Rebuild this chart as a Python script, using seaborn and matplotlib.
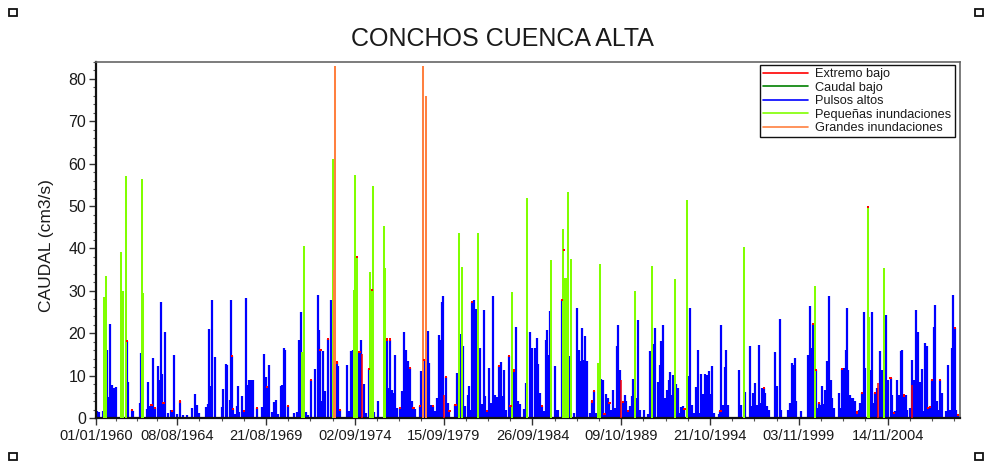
import numpy as np
import pandas as pd
import matplotlib
matplotlib.use("Agg")
import matplotlib.pyplot as plt
import matplotlib.dates as mdates
from matplotlib.lines import Line2D
from matplotlib.patches import Rectangle
from matplotlib.ticker import MultipleLocator
import seaborn as sns

# Caudal events: (decimal year, flow) per flow class
pulsos_altos = [
    (1960.04, 1.6), (1960.19, 1.3), (1960.38, 1.6), (1960.60, 16.1), (1960.70, 5.0), (1960.79, 22.2),
    (1960.89, 7.9), (1961.02, 7.0), (1961.11, 7.3), (1961.76, 18.1), (1961.83, 8.6), (1962.02, 1.8),
    (1962.11, 1.6), (1962.49, 3.5), (1962.55, 15.3), (1962.87, 2.1), (1962.97, 8.4), (1963.06, 2.9),
    (1963.15, 3.1), (1963.23, 14.1), (1963.34, 2.4), (1963.49, 12.2), (1963.55, 9.0), (1963.66, 27.4),
    (1963.74, 10.4), (1963.83, 3.5), (1963.93, 20.3), (1964.10, 1.2), (1964.23, 2.0), (1964.31, 1.6),
    (1964.42, 14.9), (1964.57, 0.9), (1964.76, 3.9), (1964.95, 0.6), (1965.14, 0.6), (1965.46, 2.4),
    (1965.61, 5.7), (1965.72, 3.0), (1965.86, 1.2), (1966.22, 2.5), (1966.33, 3.3), (1966.40, 21.0),
    (1966.52, 7.5), (1966.59, 27.8), (1966.73, 14.4), (1967.12, 2.5), (1967.20, 6.8), (1967.37, 12.8),
    (1967.44, 12.6), (1967.58, 4.3), (1967.63, 27.8), (1967.71, 14.7), (1967.78, 2.1), (1967.90, 1.0),
    (1967.99, 2.8), (1968.05, 7.5), (1968.12, 1.3), (1968.27, 5.1), (1968.39, 1.6), (1968.48, 28.3),
    (1968.58, 7.9), (1968.65, 9.0), (1968.77, 9.0), (1968.88, 9.0), (1969.11, 2.4), (1969.41, 2.5),
    (1969.52, 15.2), (1969.62, 9.6), (1969.71, 7.3), (1969.81, 12.6), (1969.96, 1.3), (1970.07, 3.8),
    (1970.18, 4.2), (1970.31, 1.0), (1970.47, 7.5), (1970.56, 7.9), (1970.66, 16.4), (1970.73, 16.1),
    (1970.88, 2.9), (1971.20, 1.2), (1971.41, 1.3), (1971.51, 18.5), (1971.60, 25.0), (1971.70, 15.6),
    (1971.88, 1.3), (1972.04, 0.8), (1972.17, 9.0),
    (1972.43, 11.6), (1972.56, 29.1), (1972.64, 20.8), (1972.72, 16.1), (1972.79, 3.9), (1972.89, 15.7),
    (1972.98, 6.3), (1973.13, 18.7), (1973.32, 27.9), (1973.40, 2.1), (1973.64, 13.1), (1973.74, 12.2),
    (1973.83, 1.8), (1974.23, 12.6), (1974.36, 1.6), (1974.45, 15.7), (1974.55, 16.1), (1974.85, 13.0),
    (1974.93, 15.5), (1975.02, 18.5), (1975.17, 8.1), (1975.30, 1.2), (1975.46, 11.6), (1975.78, 1.3),
    (1975.97, 3.9), (1976.49, 18.5), (1976.57, 7.1), (1976.68, 18.5), (1976.76, 6.7), (1976.85, 5.9),
    (1976.97, 14.9), (1977.04, 2.4), (1977.25, 2.4), (1977.35, 6.3), (1977.48, 20.3), (1977.55, 16.1),
    (1977.67, 13.4), (1977.80, 11.8), (1977.89, 3.9), (1977.99, 2.4), (1978.10, 2.1), (1978.35, 2.9),
    (1978.44, 11.2), (1978.61, 13.6), (1978.80, 20.6), (1978.89, 13.0), (1979.01, 3.1), (1979.12, 2.9),
    (1979.23, 1.6), (1979.31, 4.7), (1979.42, 19.7), (1979.50, 18.5), (1979.59, 27.3), (1979.69, 28.7),
    (1979.84, 9.6), (1979.93, 3.5), (1980.03, 1.6), (1980.37, 3.1), (1980.46, 10.6), (1980.63, 19.8),
    (1980.80, 17.1), (1980.94, 2.9), (1981.07, 5.5), (1981.16, 7.5), (1981.24, 2.0), (1981.33, 27.3),
    (1981.43, 27.8), (1981.52, 25.7), (1981.60, 22.8), (1981.77, 16.4), (1981.88, 3.3), (1981.99, 25.6),
    (1982.07, 5.1), (1982.18, 1.6), (1982.30, 11.9), (1982.39, 3.5), (1982.50, 28.7), (1982.60, 5.5),
    (1982.71, 4.9), (1982.84, 12.2), (1982.96, 13.2), (1983.05, 5.1), (1983.13, 11.4), (1983.26, 2.0),
    (1983.39, 14.7), (1983.49, 2.9), (1983.69, 11.2), (1983.81, 21.5), (1983.92, 3.9), (1984.03, 3.3),
    (1984.28, 2.2), (1984.38, 8.3),
    (1984.60, 20.4), (1984.72, 16.5), (1984.87, 16.5), (1984.98, 18.9), (1985.07, 12.7), (1985.19, 5.9),
    (1985.28, 2.8), (1985.38, 1.6), (1985.49, 18.5), (1985.58, 20.8), (1985.68, 14.9), (1985.75, 25.3),
    (1986.00, 12.3), (1986.09, 2.0), (1986.17, 1.8), (1986.42, 27.9), (1986.85, 14.7), (1987.10, 1.2),
    (1987.27, 25.9), (1987.36, 16.1), (1987.46, 13.5), (1987.55, 21.2), (1987.64, 13.8), (1987.74, 19.4),
    (1987.81, 13.5), (1988.02, 1.2), (1988.12, 3.9), (1988.21, 6.3), (1988.31, 1.2), (1988.40, 1.2),
    (1988.65, 9.3), (1988.74, 9.0), (1988.82, 1.0), (1988.91, 5.7), (1989.00, 4.7), (1989.10, 3.5),
    (1989.21, 2.0), (1989.31, 6.7), (1989.44, 2.4), (1989.53, 16.9), (1989.61, 21.9), (1989.69, 11.4),
    (1989.85, 3.8), (1989.97, 5.5), (1990.06, 3.9), (1990.16, 1.7), (1990.25, 2.8), (1990.35, 5.1),
    (1990.46, 9.2), (1990.65, 4.7), (1990.74, 23.2), (1990.82, 2.0), (1991.05, 2.0), (1991.27, 0.9),
    (1991.39, 15.7), (1991.57, 17.5), (1991.67, 21.2), (1991.86, 8.6), (1991.95, 12.6), (1992.05, 18.1),
    (1992.12, 21.9), (1992.24, 4.7), (1992.35, 6.7), (1992.46, 9.0), (1992.54, 10.8), (1992.65, 5.5),
    (1992.71, 10.2), (1992.90, 8.0), (1992.97, 7.1), (1993.09, 1.2), (1993.16, 2.5), (1993.26, 2.8),
    (1993.35, 2.1), (1993.58, 9.8), (1993.65, 25.9), (1993.75, 3.1), (1993.88, 1.2), (1994.01, 7.2),
    (1994.13, 16.1), (1994.20, 1.2), (1994.31, 10.4), (1994.43, 5.7), (1994.52, 10.4), (1994.64, 10.2),
    (1994.73, 11.0), (1994.82, 5.7), (1994.92, 12.3), (1995.01, 1.2), (1995.30, 1.0), (1995.39, 1.6),
    (1995.45, 21.9), (1995.54, 3.1), (1995.64, 12.0), (1995.73, 16.0), (1995.83, 3.1), (1996.47, 11.4),
    (1996.56, 3.0),
    (1996.81, 6.1), (1997.09, 16.9), (1997.17, 2.8), (1997.26, 5.9), (1997.36, 8.3), (1997.45, 3.1),
    (1997.55, 17.3), (1997.64, 3.5), (1997.75, 7.1), (1997.85, 7.1), (1997.94, 5.9), (1998.04, 2.9),
    (1998.15, 2.0), (1998.47, 15.5), (1998.57, 7.5), (1998.74, 23.3), (1998.81, 2.0), (1999.23, 2.0),
    (1999.32, 3.5), (1999.42, 13.0), (1999.51, 12.6), (1999.61, 14.2), (1999.70, 3.9), (1999.95, 1.6),
    (2000.36, 14.9), (2000.46, 26.5), (2000.55, 16.5), (2000.65, 22.2), (2000.80, 11.4), (2000.89, 2.4),
    (2000.99, 3.5), (2001.08, 3.1), (2001.17, 7.5), (2001.27, 3.3), (2001.34, 6.7), (2001.44, 13.4),
    (2001.53, 28.7), (2001.63, 9.0), (2001.72, 4.7), (2001.82, 2.4), (2002.12, 5.9), (2002.21, 2.4),
    (2002.29, 11.6), (2002.38, 11.8), (2002.48, 16.1), (2002.55, 25.9), (2002.63, 11.4), (2002.74, 5.5),
    (2002.84, 4.7), (2002.93, 4.7), (2003.03, 3.9), (2003.12, 1.3), (2003.23, 2.0), (2003.31, 3.5),
    (2003.40, 5.9), (2003.50, 25.0), (2003.59, 11.8), (2003.89, 11.4), (2003.99, 25.0), (2004.08, 3.5),
    (2004.16, 5.9), (2004.25, 7.1), (2004.42, 15.7), (2004.52, 11.4), (2004.61, 11.4), (2004.78, 24.4),
    (2004.90, 9.0), (2005.03, 9.4), (2005.12, 5.5), (2005.22, 1.2), (2005.31, 1.6), (2005.41, 9.0),
    (2005.50, 5.5), (2005.60, 15.7), (2005.69, 16.1), (2005.79, 5.3), (2005.90, 5.5), (2005.99, 2.0),
    (2006.13, 2.4), (2006.22, 13.8), (2006.35, 9.0), (2006.43, 5.9), (2006.50, 25.6), (2006.60, 20.4),
    (2006.69, 8.6), (2006.79, 11.6), (2006.88, 1.6), (2006.98, 17.8), (2007.07, 16.9), (2007.16, 2.4),
    (2007.28, 2.6), (2007.37, 9.0), (2007.47, 21.4), (2007.54, 26.7), (2007.64, 3.9), (2007.73, 2.0),
    (2007.83, 9.0), (2007.92, 5.9), (2008.20, 1.6), (2008.30, 12.6), (2008.39, 2.0), (2008.49, 16.5),
    (2008.58, 29.1), (2008.68, 21.2), (2008.77, 2.0), (2008.87, 0.8),
]

pequenas_inundaciones = [
    (1960.47, 28.5), (1960.57, 33.6), (1961.42, 39.2), (1961.47, 15.3), (1961.55, 30.0), (1961.68, 57.1),
    (1962.61, 56.5), (1962.68, 29.5), (1971.68, 15.5), (1971.77, 40.7), (1973.45, 61.2), (1974.60, 30.2),
    (1974.70, 57.4), (1974.77, 38.0), (1975.53, 34.5), (1975.64, 30.2), (1975.72, 54.7), (1976.33, 45.3),
    (1976.40, 35.3), (1980.56, 43.7), (1980.73, 35.7), (1981.67, 43.7), (1983.55, 29.8), (1984.43, 52.0),
    (1985.79, 37.3), (1986.48, 44.7), (1986.54, 33.0), (1986.60, 33.0), (1986.66, 33.0), (1986.72, 33.0),
    (1986.77, 53.3), (1986.94, 37.5), (1988.46, 12.9), (1988.55, 36.3), (1990.55, 30.0), (1991.50, 35.9),
    (1992.80, 32.9), (1993.50, 51.5), (1996.70, 40.4), (2000.74, 31.1), (2003.74, 49.7), (2003.80, 23.9),
    (2004.69, 35.3),
]

grandes_inundaciones = [(1973.50, 35.0), (1973.54, 83.0), (1978.55, 83.0), (1978.72, 75.9)]

extremo_bajo = [(1975.07, 15.0), (1979.71, 5.4), (1989.78, 9.0), (2004.33, 8.3), (2006.26, 7.9)]

caudal_bajo = []

# short low-flow stretches sitting on top of the flow peaks
extremo_bajo_puntos = [
    (1961.76, 18.1), (1962.02, 1.8), (1963.15, 3.1), (1963.34, 2.4), (1963.83, 3.5), (1964.31, 1.6),
    (1964.76, 3.9), (1967.71, 14.7), (1967.78, 2.1), (1968.39, 1.6), (1969.11, 2.4), (1969.71, 7.3),
    (1970.88, 2.9), (1972.17, 9.0), (1972.72, 16.1), (1973.13, 18.7), (1973.64, 13.1), (1973.83, 1.8),
    (1974.77, 38.0), (1974.93, 15.5), (1975.46, 11.6), (1975.64, 30.2), (1976.49, 18.5), (1976.68, 18.5),
    (1977.25, 2.4), (1977.80, 11.8), (1977.99, 2.4), (1978.35, 2.9), (1978.61, 13.6), (1979.12, 2.9),
    (1979.84, 9.6), (1980.03, 1.6), (1980.37, 3.1), (1981.33, 27.3), (1982.18, 1.6), (1982.84, 12.2),
    (1983.39, 14.7), (1983.49, 2.9), (1983.69, 11.2), (1985.28, 2.8), (1986.42, 27.9), (1986.52, 39.6),
    (1988.12, 3.9), (1988.21, 6.3), (1988.82, 1.0), (1989.10, 3.5), (1989.85, 3.8), (1990.16, 1.7),
    (1993.35, 2.1), (1995.39, 1.6), (1997.85, 7.1), (2000.65, 22.2), (2000.80, 11.4), (2000.99, 3.5),
    (2002.29, 11.6), (2003.12, 1.3), (2003.40, 5.9), (2003.74, 49.7), (2004.16, 5.9), (2005.03, 9.4),
    (2005.22, 1.2), (2005.79, 5.3), (2007.16, 2.4), (2007.28, 2.6), (2007.37, 9.0), (2007.83, 9.0),
    (2008.68, 21.2), (2008.87, 0.8),
]

tick_fechas = ["1960-01-01", "1964-08-08", "1969-08-21", "1974-09-02", "1979-09-15",
               "1984-09-26", "1989-10-09", "1994-10-21", "1999-11-03", "2004-11-14"]

series = [
    ("Extremo bajo", "#ff0000"),
    ("Caudal bajo", "#008000"),
    ("Pulsos altos", "#0000ff"),
    ("Pequeñas inundaciones", "#80ff00"),
    ("Grandes inundaciones", "#ff8040"),
]


def to_frame(events):
    arr = np.array(events, dtype=float).reshape(-1, 2)
    yr = arr[:, 0]
    base = pd.to_datetime(yr.astype(int).astype(str), format="%Y")
    fecha = base + pd.to_timedelta((yr - yr.astype(int)) * 365.25, unit="D")
    return pd.DataFrame({"fecha": fecha, "caudal": arr[:, 1]})


sns.set_theme(style="white")
plt.rcParams["font.family"] = ["Liberation Sans", "DejaVu Sans"]

fig = plt.figure(figsize=(9.9, 4.62), dpi=100)
ax = fig.add_axes([96 / 990, 44 / 462, 864 / 990, 356 / 462])

colors = dict(series)
layers = [
    (pulsos_altos, colors["Pulsos altos"], 1.6, 2),
    (pequenas_inundaciones, colors["Pequeñas inundaciones"], 1.45, 3),
    (grandes_inundaciones, colors["Grandes inundaciones"], 1.45, 4),
    (extremo_bajo, colors["Extremo bajo"], 1.1, 5),
]
for events, col, lw, z in layers:
    df = to_frame(events)
    ax.vlines(df["fecha"], 0, df["caudal"], colors=col, linewidth=lw, zorder=z)

dots = to_frame(extremo_bajo_puntos)
sns.scatterplot(data=dots, x="fecha", y="caudal", ax=ax, color="#ff0000", marker="s",
                s=2.5, linewidth=0, edgecolor="none", zorder=6, legend=False)

# axes
ax.set_xlim(pd.Timestamp("1960-01-01"), pd.Timestamp("2008-12-20"))
ax.set_ylim(0, 84)
ax.set_xlabel("")
ax.set_ylabel("")

majors = pd.to_datetime(tick_fechas)
ax.set_xticks(majors)
ax.set_xticklabels([d.strftime("%d/%m/%Y") for d in majors])
mnums = mdates.date2num(majors)
minor = []
for a, b in zip(mnums[:-1], mnums[1:]):
    minor.extend(np.linspace(a, b, 5)[1:-1])
step = (mnums[-1] - mnums[-2]) / 4
minor.extend([mnums[-1] + step * k for k in (1, 2, 3)])
ax.set_xticks(minor, minor=True)

ax.set_yticks(range(0, 81, 10))
ax.yaxis.set_minor_locator(MultipleLocator(2))

ax.tick_params(axis="both", which="major", direction="out", length=5, width=1,
               color="#333333", labelcolor="#1a1a1a", bottom=True, left=True)
ax.tick_params(axis="both", which="minor", direction="out", length=2.5, width=0.8,
               color="#555555", bottom=True, left=True)
ax.tick_params(axis="x", labelsize=10.5, pad=3)
ax.tick_params(axis="y", labelsize=11.5, pad=2)

for side, sp in ax.spines.items():
    sp.set_visible(True)
    sp.set_color("#111111")
    sp.set_linewidth(1.6)
ax.spines["top"].set_color("#666666")
ax.spines["right"].set_color("#666666")
ax.spines["top"].set_linewidth(1.2)
ax.spines["right"].set_linewidth(1.2)

handles = [Line2D([0], [0], color=c, lw=1.2) for _, c in series]
leg = ax.legend(handles, [n for n, _ in series], loc="upper right",
                bbox_to_anchor=(0.994, 0.992), fontsize=9.2, frameon=True, fancybox=False,
                edgecolor="#111111", framealpha=1, borderpad=0.25, labelspacing=0.12,
                handlelength=3.5, handletextpad=0.6, borderaxespad=0)
leg.get_frame().set_linewidth(1.0)
for t in leg.get_texts():
    t.set_color("#1a1a1a")

fig.text(502 / 990, 1 - 39 / 462, "CONCHOS CUENCA ALTA", ha="center", va="center",
         fontsize=18, color="#1a1a1a")
fig.text(47 / 990, 1 - 246 / 462, "CAUDAL (cm3/s)", rotation=90, ha="center", va="center",
         fontsize=12.5, color="#1a1a1a")

# selection handles at the corners of the frame
for px, py in [(13, 12), (979, 12), (13, 456), (979, 456)]:
    fig.add_artist(Rectangle(((px - 4) / 990, 1 - (py + 3.5) / 462), 8 / 990, 7 / 462,
                             transform=fig.transFigure, fill=False, edgecolor="#111111", lw=1.3))

fig.savefig("out.png", dpi=100)
